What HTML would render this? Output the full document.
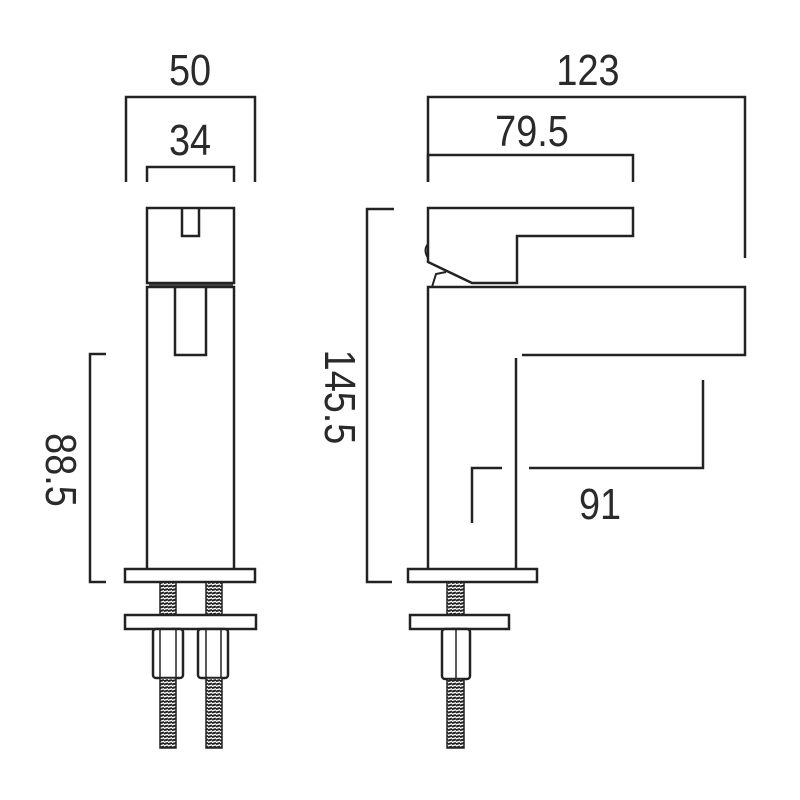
<!DOCTYPE html>
<html><head><style>
html,body{margin:0;padding:0;background:#fff;}
svg{display:block;}
text{font-family:"Liberation Sans",sans-serif;font-size:44px;fill:#2a2a2a;}
</style></head><body>
<svg width="800" height="800" viewBox="0 0 800 800" xmlns="http://www.w3.org/2000/svg">
<defs>
<pattern id="thr" width="4" height="3.5" patternUnits="userSpaceOnUse">
<rect width="4" height="3.5" fill="#fff"/><line x1="0" y1="2.2" x2="4" y2="1" stroke="#222" stroke-width="2"/>
</pattern>
</defs>
<g fill="none" stroke="#222" stroke-width="2.5">
<polyline points="126,182 126,97 255,97 255,182"/>
<polyline points="147,182 147,167 234,167 234,182"/>
<polyline points="428,182 428,97 745,97 745,258"/>
<polyline points="428,182 428,155 633,155 633,182"/>
<polyline points="394,209 367,209 367,582 392,582"/>
<polyline points="106,354 90,354 90,582 106,582"/>
<polyline points="472,523 472,468 502,468"/>
<polyline points="529,468 703,468 703,380"/>

<rect x="147" y="208" width="87" height="75"/>
<polyline points="182,208 182,236 199,236 199,208"/>
<line x1="149" y1="285" x2="233" y2="285" stroke-width="1.5"/>
<polyline points="147,568 147,287 234,287 234,568"/>
<polyline points="175,287 175,355 206,355 206,287"/>
<rect x="125" y="569" width="130" height="13" fill="#fff"/>
<rect x="125" y="615" width="131" height="14" fill="#fff"/>
<rect x="160" y="582" width="16" height="33" fill="url(#thr)" stroke-width="1.5"/>
<rect x="206" y="582" width="16" height="33" fill="url(#thr)" stroke-width="1.5"/>
<rect x="153" y="629" width="30" height="49" rx="3" fill="#fff"/>
<line x1="160" y1="629" x2="160" y2="678" stroke-width="1.5"/><line x1="176" y1="629" x2="176" y2="678" stroke-width="1.5"/>
<rect x="198" y="629" width="30" height="49" rx="3" fill="#fff"/>
<line x1="206" y1="629" x2="206" y2="678" stroke-width="1.5"/><line x1="221" y1="629" x2="221" y2="678" stroke-width="1.5"/>
<rect x="160" y="678" width="16" height="70" fill="url(#thr)" stroke-width="1.5"/>
<rect x="206" y="678" width="16" height="70" fill="url(#thr)" stroke-width="1.5"/>

<path d="M428,208 L633,208 L633,236 L517,236 L517,283 L472,283 L428,262 Z"/>
<path d="M428,244 Q423,250 428,258" stroke-width="2"/>
<path d="M432,287 L436,274 L446,272" stroke-width="2"/>
<polyline points="428,568 428,287 745,287 745,355 522,355 Q516,356 512,363"/>
<line x1="516" y1="358" x2="516" y2="568"/>
<rect x="408" y="569" width="129" height="13" fill="#fff"/>
<rect x="410" y="615" width="99" height="14" fill="#fff"/>
<rect x="447" y="582" width="17" height="33" fill="url(#thr)" stroke-width="1.5"/>
<rect x="442" y="629" width="28" height="50" rx="3" fill="#fff"/>
<line x1="456" y1="629" x2="456" y2="679" stroke-width="1.5"/>
<rect x="447" y="679" width="17" height="69" fill="url(#thr)" stroke-width="1.5"/>
</g>

<text x="190" y="85" text-anchor="middle" transform="translate(190 0) scale(0.86 1) translate(-190 0)">50</text>
<text x="190" y="155" text-anchor="middle" transform="translate(190 0) scale(0.86 1) translate(-190 0)">34</text>
<text x="588" y="85" text-anchor="middle" transform="translate(588 0) scale(0.86 1) translate(-588 0)">123</text>
<text x="532" y="146" text-anchor="middle" transform="translate(532 0) scale(0.86 1) translate(-532 0)">79.5</text>
<text x="600" y="519" text-anchor="middle" transform="translate(600 0) scale(0.86 1) translate(-600 0)">91</text>
<text transform="translate(325 397) rotate(90) scale(0.86 1)" text-anchor="middle">145.5</text>
<text transform="translate(46 470) rotate(90) scale(0.86 1)" text-anchor="middle">88.5</text>
</svg>
</body></html>
